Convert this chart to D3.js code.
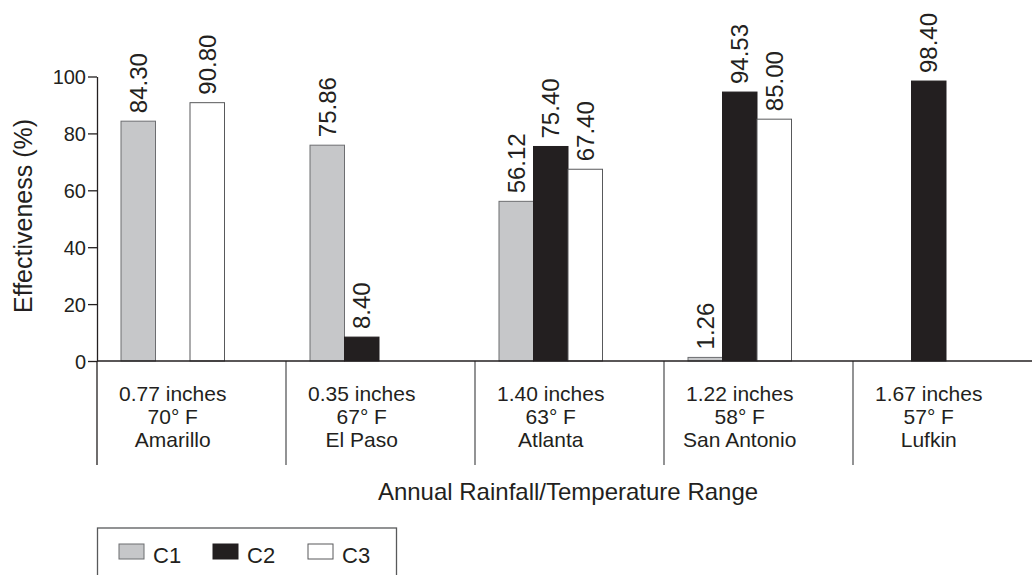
<!DOCTYPE html>
<html><head><meta charset="utf-8">
<script src="https://cdn.jsdelivr.net/npm/d3@7"></script>
<style>
body{margin:0;background:#fff}
svg text{font-family:"Liberation Sans",Arial,Helvetica,sans-serif;fill:#231f20}
</style>
</head><body><svg id="c" width="1032" height="575"></svg>
<script>
const categories = ["Amarillo","El Paso","Atlanta","San Antonio","Lufkin"];
const rainfall = ["0.77 inches","0.35 inches","1.40 inches","1.22 inches","1.67 inches"];
const temperature = ["70\u00b0 F","67\u00b0 F","63\u00b0 F","58\u00b0 F","57\u00b0 F"];
const seriesNames = ["C1","C2","C3"];
const c1 = [84.30, 75.86, 56.12, 1.26, null];
const c2 = [null, 8.40, 75.40, 94.53, 98.40];
const c3 = [90.80, null, 67.40, 85.00, null];
const yTicks = [0,20,40,60,80,100];
const yTitle = "Effectiveness (%)";
const xTitle = "Annual Rainfall/Temperature Range";

const seriesValues = [c1,c2,c3];
const fills = {C1:"#c6c7c9", C2:"#231f20", C3:"#ffffff"};
const strokes = {C1:"#6d6e71", C2:"#231f20", C3:"#58595b"};

const svg = d3.select("#c");
const x0 = d3.scaleBand().domain(categories).range([97, 1042]).padding(0);
const x1 = d3.scaleBand().domain(seriesNames).range([24, 127.5]).padding(0);
const y = d3.scaleLinear().domain([0,100]).range([361, 76.5]);

// y axis
const ya = svg.append("g").attr("transform","translate(97,0)")
  .call(d3.axisLeft(y).tickValues(yTicks).tickSize(9).tickSizeOuter(0).tickPadding(2));
ya.select(".domain").attr("stroke","#231f20").attr("stroke-width",1.3);
ya.selectAll(".tick line").attr("stroke","#231f20").attr("stroke-width",1.3);
ya.selectAll(".tick text").style("font-size","20px").attr("dy","0.36em");

// axis extension & separators
svg.append("line").attr("x1",97).attr("x2",97).attr("y1",y(0)).attr("y2",465)
  .attr("stroke","#231f20").attr("stroke-width",1.3);
svg.selectAll(".sep").data(categories.slice(1)).enter().append("line")
  .attr("x1",d=>x0(d)).attr("x2",d=>x0(d)).attr("y1",y(0)).attr("y2",465)
  .attr("stroke","#58595b").attr("stroke-width",1.3);

// bars
const barData = [];
categories.forEach((c,i)=>seriesNames.forEach((s,j)=>{
  const v = seriesValues[j][i];
  if (v!==null) barData.push({c,s,v});
}));
svg.selectAll(".bar").data(barData).enter().append("rect")
  .attr("x",d=>x0(d.c)+x1(d.s))
  .attr("y",d=>y(d.v))
  .attr("width",x1.bandwidth())
  .attr("height",d=>y(0)-y(d.v))
  .attr("fill",d=>fills[d.s]).attr("stroke",d=>strokes[d.s]).attr("stroke-width",1);

// baseline
svg.append("line").attr("x1",97).attr("x2",1032).attr("y1",y(0)).attr("y2",y(0))
  .attr("stroke","#231f20").attr("stroke-width",1.3);

// value labels
svg.selectAll(".vl").data(barData).enter().append("text")
  .attr("transform",d=>`translate(${x0(d.c)+x1(d.s)+x1.bandwidth()/2+8.5},${y(d.v)-8}) rotate(-90)`)
  .style("font-size","24px").text(d=>d.v.toFixed(2));

// category labels
const cx = c => x0(c)+ (x1.range()[0]+x1.range()[1])/2;
const cl = svg.selectAll(".cl").data(categories).enter().append("text")
  .attr("text-anchor","middle").style("font-size","21px");
cl.append("tspan").attr("x",cx).attr("y",401).text((d,i)=>rainfall[i]);
cl.append("tspan").attr("x",cx).attr("y",424).text((d,i)=>temperature[i]);
cl.append("tspan").attr("x",cx).attr("y",447).text(d=>d);

// titles
svg.append("text").attr("x",568).attr("y",500).attr("text-anchor","middle")
  .style("font-size","24px").text(xTitle);
svg.append("text").attr("transform","translate(32,216) rotate(-90)").attr("text-anchor","middle")
  .style("font-size","25px").text(yTitle);

// legend
svg.append("rect").attr("x",97.5).attr("y",528).attr("width",299).attr("height",60)
  .attr("fill","none").attr("stroke","#58595b").attr("stroke-width",1.3);
const lx = [119, 213, 308];
const lg = svg.selectAll(".lg").data(seriesNames).enter().append("g")
  .attr("transform",(d,i)=>`translate(${lx[i]},544)`);
lg.append("rect").attr("width",25).attr("height",15)
  .attr("fill",d=>fills[d]).attr("stroke",d=>strokes[d]).attr("stroke-width",1);
lg.append("text").attr("x",34).attr("y",19).style("font-size","22px").text(d=>d);
</script></body></html>
